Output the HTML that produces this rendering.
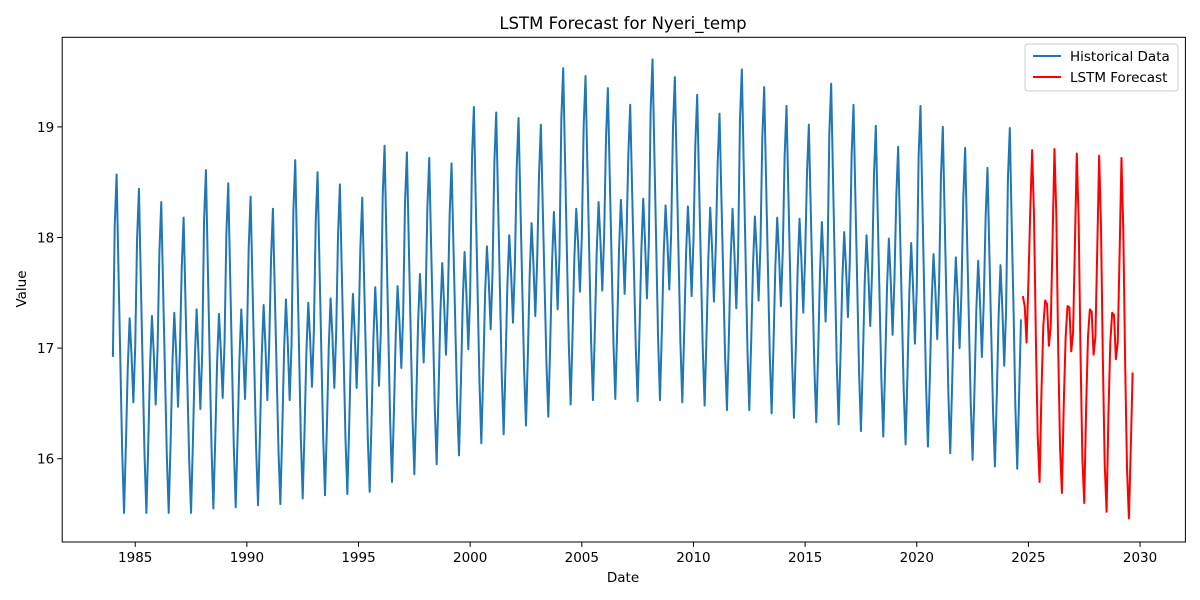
<!DOCTYPE html>
<html><head><meta charset="utf-8"><style>
html,body{margin:0;padding:0;background:#fff;}
svg{display:block;font-family:"DejaVu Sans","Liberation Sans",sans-serif;}
</style></head><body>
<svg id="chart" width="1200" height="600" viewBox="0 0 1200 600" xmlns="http://www.w3.org/2000/svg">
<rect x="0" y="0" width="1200" height="600" fill="#fff"/>
<text x="623" y="29" font-size="16.5" text-anchor="middle" fill="#000">LSTM Forecast for Nyeri_temp</text>
<text x="623" y="582" font-size="13.5" text-anchor="middle" fill="#000">Date</text>
<text x="0" y="0" font-size="13.5" text-anchor="middle" fill="#000" transform="translate(26,289) rotate(-90)">Value</text>
<g id="xticks"></g>
<g id="yticks"></g>
<g id="series"></g>
<rect x="62.2" y="37.3" width="1123.2" height="504.7" fill="none" stroke="#000" stroke-width="1"/>
<g>
<rect x="1025" y="44" width="153" height="47" rx="3" fill="#fff" fill-opacity="0.8" stroke="#ccc"/>
<g>
<line x1="1033" y1="56" x2="1061" y2="56" stroke="#1f77b4" stroke-width="2"/>
<text x="1070" y="61" font-size="13.5" fill="#000">Historical Data</text>
</g>
<g>
<line x1="1033" y1="77" x2="1061" y2="77" stroke="#ff0000" stroke-width="2"/>
<text x="1070" y="82" font-size="13.5" fill="#000">LSTM Forecast</text>
</g>
</g>
</svg>
<script>
// Historical monthly values, Jan 1984 .. Sep 2024
const histStartYear = 1984;
const histValues = [
16.92,18.12,18.57,17.71,16.89,16.06,15.51,16.13,16.83,17.27,16.94,16.51,
17.01,17.99,18.44,17.62,16.83,16.04,15.51,16.13,16.85,17.29,16.94,16.49,
16.99,17.87,18.32,17.53,16.77,16.02,15.51,16.14,16.87,17.32,16.95,16.47,
16.97,17.73,18.18,17.43,16.71,15.99,15.51,16.15,16.89,17.35,16.95,16.45,
16.95,18.16,18.61,17.75,16.93,16.10,15.55,16.17,16.87,17.31,16.98,16.55,
17.05,18.04,18.49,17.67,16.88,16.09,15.56,16.19,16.90,17.35,16.99,16.54,
17.04,17.92,18.37,17.59,16.84,16.08,15.58,16.21,16.94,17.39,17.01,16.53,
17.03,17.81,18.26,17.51,16.79,16.07,15.59,16.24,16.98,17.44,17.04,16.53,
17.03,18.25,18.70,17.84,17.02,16.19,15.64,16.26,16.97,17.41,17.08,16.65,
17.15,18.14,18.59,17.77,16.98,16.20,15.67,16.29,17.01,17.45,17.10,16.64,
17.14,18.03,18.48,17.70,16.94,16.18,15.68,16.31,17.04,17.49,17.12,16.64,
17.14,17.91,18.36,17.62,16.90,16.18,15.70,16.35,17.09,17.55,17.16,16.66,
17.16,18.38,18.83,17.98,17.16,16.34,15.79,16.41,17.12,17.56,17.24,16.82,
17.32,18.32,18.77,17.96,17.17,16.38,15.86,16.49,17.22,17.67,17.32,16.87,
17.37,18.27,18.72,17.94,17.20,16.45,15.95,16.59,17.32,17.77,17.40,16.94,
17.44,18.22,18.67,17.93,17.22,16.51,16.03,16.67,17.41,17.87,17.48,16.99,
17.49,18.73,19.18,18.33,17.51,16.69,16.14,16.76,17.48,17.92,17.60,17.17,
17.67,18.68,19.13,18.32,17.53,16.74,16.22,16.85,17.57,18.02,17.68,17.23,
17.73,18.63,19.08,18.30,17.55,16.80,16.30,16.94,17.67,18.13,17.76,17.29,
17.79,18.57,19.02,18.28,17.57,16.86,16.38,17.03,17.77,18.23,17.84,17.35,
17.85,19.08,19.53,18.68,17.86,17.04,16.49,17.11,17.82,18.26,17.94,17.51,
18.01,19.01,19.46,18.64,17.85,17.06,16.53,17.16,17.87,18.32,17.97,17.52,
18.02,18.90,19.35,18.56,17.80,17.05,16.54,17.17,17.89,18.34,17.97,17.49,
17.99,18.75,19.20,18.45,17.73,17.00,16.52,17.16,17.89,18.35,17.95,17.45,
17.95,19.16,19.61,18.75,17.92,17.08,16.53,17.15,17.85,18.29,17.96,17.53,
18.03,19.00,19.45,18.63,17.83,17.04,16.51,17.13,17.84,18.28,17.93,17.47,
17.97,18.84,19.29,18.50,17.74,16.99,16.48,17.11,17.82,18.27,17.90,17.42,
17.92,18.67,19.12,18.37,17.65,16.92,16.44,17.08,17.81,18.26,17.86,17.36,
17.86,19.07,19.52,18.66,17.83,16.99,16.44,17.05,17.75,18.19,17.86,17.43,
17.93,18.91,19.36,18.53,17.74,16.94,16.41,17.03,17.74,18.18,17.83,17.38,
17.88,18.74,19.19,18.40,17.64,16.88,16.37,17.00,17.72,18.17,17.80,17.32,
17.82,18.57,19.02,18.27,17.54,16.81,16.33,16.96,17.69,18.14,17.74,17.24,
17.74,18.94,19.39,18.53,17.70,16.86,16.31,16.92,17.62,18.05,17.72,17.28,
17.78,18.75,19.20,18.37,17.58,16.78,16.25,16.87,17.58,18.02,17.66,17.20,
17.70,18.56,19.01,18.22,17.46,16.71,16.20,16.83,17.54,17.99,17.61,17.12,
17.62,18.37,18.82,18.07,17.34,16.61,16.13,16.77,17.50,17.95,17.55,17.04,
17.54,18.74,19.19,18.33,17.50,16.66,16.11,16.72,17.42,17.85,17.52,17.08,
17.58,18.55,19.00,18.17,17.38,16.58,16.05,16.67,17.38,17.82,17.46,17.00,
17.50,18.36,18.81,18.02,17.26,16.50,15.99,16.62,17.34,17.79,17.41,16.92,
17.42,18.18,18.63,17.87,17.15,16.42,15.93,16.57,17.30,17.75,17.35,16.84,
17.34,18.54,18.99,18.13,17.36,16.46,15.91,16.58,17.26
];
// LSTM forecast monthly values, Oct 2024 .. Sep 2029
const fcStartYear = 2024.75;
const fcValues = [
17.47,17.38,17.05,17.60,18.25,18.79,18.20,17.10,16.20,15.79,16.60,17.20,
17.43,17.40,17.02,17.20,18.00,18.80,18.20,17.00,16.10,15.69,16.50,17.10,
17.38,17.37,16.97,17.14,17.95,18.76,18.15,16.95,16.00,15.60,16.45,17.10,
17.35,17.33,16.94,17.10,17.90,18.74,18.10,16.90,15.95,15.52,16.40,17.05,
17.32,17.30,16.90,17.05,17.85,18.72,18.05,16.85,15.90,15.46,16.10,16.78
];
const xTickLabels = ["1985","1990","1995","2000","2005","2010","2015","2020","2025","2030"];
const yTickLabels = ["16","17","18","19"];

const NS = "http://www.w3.org/2000/svg";
const plot = {left:62.2, right:1185.4, top:37.3, bottom:542};
const xDomain = [1981.73, 2032.03];
const yDomain = [15.247, 19.81];
function xScale(t){ return plot.left + (t - xDomain[0]) / (xDomain[1] - xDomain[0]) * (plot.right - plot.left); }
function yScale(v){ return plot.bottom - (v - yDomain[0]) / (yDomain[1] - yDomain[0]) * (plot.bottom - plot.top); }

const xg = document.getElementById('xticks');
xTickLabels.forEach(function(lbl){
  const x = xScale(parseFloat(lbl));
  const t = document.createElementNS(NS,'line');
  t.setAttribute('x1',x); t.setAttribute('x2',x);
  t.setAttribute('y1',plot.bottom); t.setAttribute('y2',plot.bottom+4.9);
  t.setAttribute('stroke','#000');
  
  
  xg.appendChild(t);
  const tx = document.createElementNS(NS,'text');
  tx.setAttribute('x',x); tx.setAttribute('y',plot.bottom+20);
  tx.setAttribute('text-anchor','middle'); tx.setAttribute('font-size','13.5');
  tx.textContent = lbl;
  
  
  xg.appendChild(tx);
});
const yg = document.getElementById('yticks');
yTickLabels.forEach(function(lbl){
  const y = yScale(parseFloat(lbl));
  const t = document.createElementNS(NS,'line');
  t.setAttribute('x1',plot.left-4.9); t.setAttribute('x2',plot.left);
  t.setAttribute('y1',y); t.setAttribute('y2',y);
  t.setAttribute('stroke','#000');
  
  
  yg.appendChild(t);
  const tx = document.createElementNS(NS,'text');
  tx.setAttribute('x',plot.left-8); tx.setAttribute('y',y+5);
  tx.setAttribute('text-anchor','end'); tx.setAttribute('font-size','13.5');
  tx.textContent = lbl;
  
  
  yg.appendChild(tx);
});

function buildPath(vals, start){
  return vals.map(function(v,i){
    return (i? 'L':'M') + xScale(start + i/12).toFixed(2) + ',' + yScale(v).toFixed(2);
  }).join('');
}
const sg = document.getElementById('series');
const hp = document.createElementNS(NS,'path');
hp.setAttribute('d', buildPath(histValues, histStartYear));
hp.setAttribute('fill','none'); hp.setAttribute('stroke','#1f77b4'); hp.setAttribute('stroke-width','2');
hp.setAttribute('stroke-linejoin','round');


sg.appendChild(hp);
const fp = document.createElementNS(NS,'path');
fp.setAttribute('d', buildPath(fcValues, fcStartYear));
fp.setAttribute('fill','none'); fp.setAttribute('stroke','#ff0000'); fp.setAttribute('stroke-width','2');
fp.setAttribute('stroke-linejoin','round');


sg.appendChild(fp);
</script>
</body></html>
